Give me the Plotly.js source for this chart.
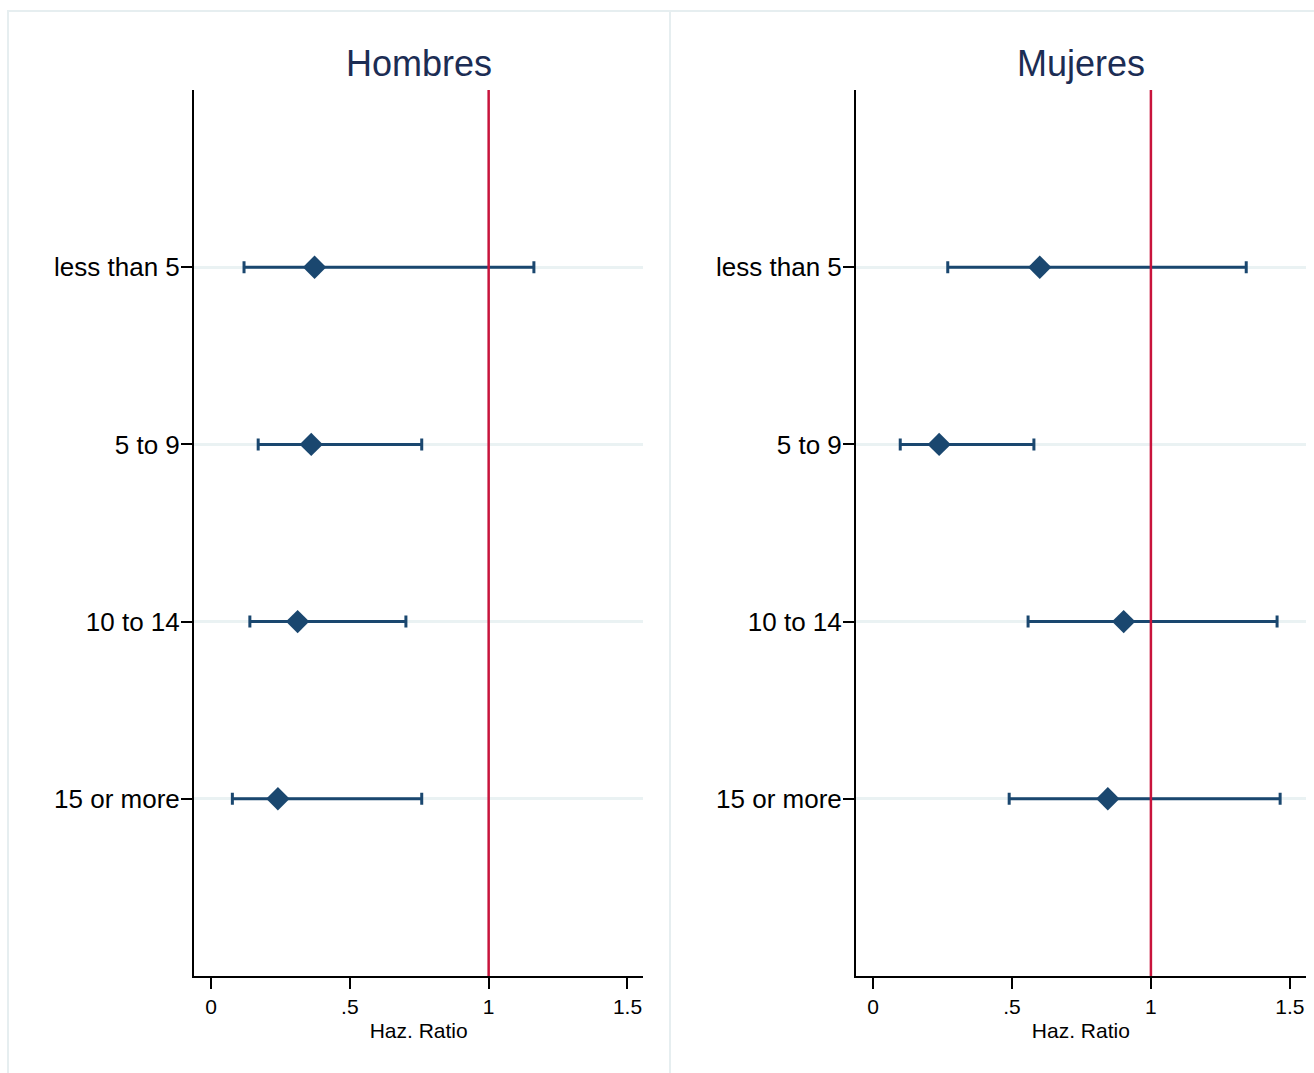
<!DOCTYPE html>
<html>
<head>
<meta charset="utf-8">
<script src="https://cdn.plot.ly/plotly-3.0.1.min.js"></script>
<style>
  html, body { margin: 0; padding: 0; background: #ffffff; }
  #chart { width: 1314px; height: 1073px; }
</style>
</head>
<body>
<div id="chart"></div>
<script>
// Hazard ratios by category, with 95% confidence limits
const categories = ["less than 5", "5 to 9", "10 to 14", "15 or more"];
const catPos = [1, 2, 3, 4];

const menHR    = [0.373, 0.361, 0.312, 0.241];
const menLow   = [0.119, 0.170, 0.140, 0.077];
const menHigh  = [1.163, 0.759, 0.702, 0.759];

const womenHR   = [0.600, 0.238, 0.902, 0.845];
const womenLow  = [0.269, 0.098, 0.558, 0.490];
const womenHigh = [1.343, 0.579, 1.454, 1.465];

const xTickVals = [0, 0.5, 1, 1.5];
const xTickText = ["0", ".5", "1", "1.5"];
const panelTitles = ["Hombres", "Mujeres"];
const xTitle = "Haz. Ratio";

const W = 1314, H = 1073;
const FONT = "'Liberation Sans', Arial, sans-serif";
const navy = "#1a476f";
const red = "#c8143c";
const frameCol = "#e6eef0";

function ciTrace(hr, low, high, xa, ya) {
  return {
    type: "scatter", mode: "markers",
    x: hr, y: catPos, xaxis: xa, yaxis: ya,
    marker: { symbol: "diamond", size: 18, color: navy },
    error_x: {
      type: "data", symmetric: false,
      array: high.map((h, i) => h - hr[i]),
      arrayminus: low.map((l, i) => hr[i] - l),
      color: navy, thickness: 3, width: 6
    },
    hoverinfo: "x+y", showlegend: false
  };
}

const px = v => v / W;
const py = v => 1 - v / H;

function xAxis(domain) {
  return {
    domain: domain, range: [-0.0612, 1.557],
    tickvals: xTickVals, ticktext: xTickText,
    ticks: "outside", ticklen: 11, tickwidth: 2, tickcolor: "#000",
    showline: true, linecolor: "#000", linewidth: 2,
    showgrid: false, zeroline: false,
    tickfont: { family: FONT, size: 21, color: "#000" },
    title: { text: xTitle, font: { family: FONT, size: 21, color: "#000" }, standoff: 6 }
  };
}
function yAxis(anchor) {
  return {
    domain: [py(976), py(90)], range: [5, 0], anchor: anchor,
    tickvals: catPos, ticktext: categories,
    ticks: "outside", ticklen: 11, tickwidth: 2, tickcolor: "#000",
    ticklabelstandoff: -4,
    showline: true, linecolor: "#000", linewidth: 2,
    showgrid: true, gridcolor: "#eaf2f3", gridwidth: 3,
    zeroline: false,
    tickfont: { family: FONT, size: 26, color: "#000" }
  };
}

const data = [
  ciTrace(menHR, menLow, menHigh, "x", "y"),
  ciTrace(womenHR, womenLow, womenHigh, "x2", "y2")
];

const layout = {
  width: W, height: H,
  margin: { l: 0, r: 0, t: 0, b: 0 },
  paper_bgcolor: "#ffffff", plot_bgcolor: "#ffffff",
  xaxis: Object.assign(xAxis([px(194), px(643.3)]), { anchor: "y" }),
  yaxis: yAxis("x"),
  xaxis2: Object.assign(xAxis([px(856), px(1305.7)]), { anchor: "y2" }),
  yaxis2: yAxis("x2"),
  shapes: [
    // outer frame and panel divider
    { type: "rect", xref: "paper", yref: "paper", x0: px(8), x1: px(1320), y0: py(1080), y1: py(11),
      line: { color: frameCol, width: 2 }, layer: "below" },
    { type: "line", xref: "paper", yref: "paper", x0: px(670), x1: px(670), y0: py(1080), y1: py(11),
      line: { color: frameCol, width: 2 }, layer: "below" },
    // reference line at HR = 1
    { type: "line", xref: "x", yref: "y domain", x0: 1, x1: 1, y0: 0, y1: 1,
      line: { color: red, width: 2.5 } },
    { type: "line", xref: "x2", yref: "y2 domain", x0: 1, x1: 1, y0: 0, y1: 1,
      line: { color: red, width: 2.5 } }
  ],
  annotations: [
    { text: panelTitles[0], xref: "paper", yref: "paper", x: px(418.5), y: py(63),
      xanchor: "center", yanchor: "middle", showarrow: false,
      font: { family: FONT, size: 36, color: "#1c2d54" } },
    { text: panelTitles[1], xref: "paper", yref: "paper", x: px(1081), y: py(63),
      xanchor: "center", yanchor: "middle", showarrow: false,
      font: { family: FONT, size: 36, color: "#1c2d54" } }
  ]
};

Plotly.newPlot("chart", data, layout, { displayModeBar: false, staticPlot: true });
</script>
</body>
</html>
